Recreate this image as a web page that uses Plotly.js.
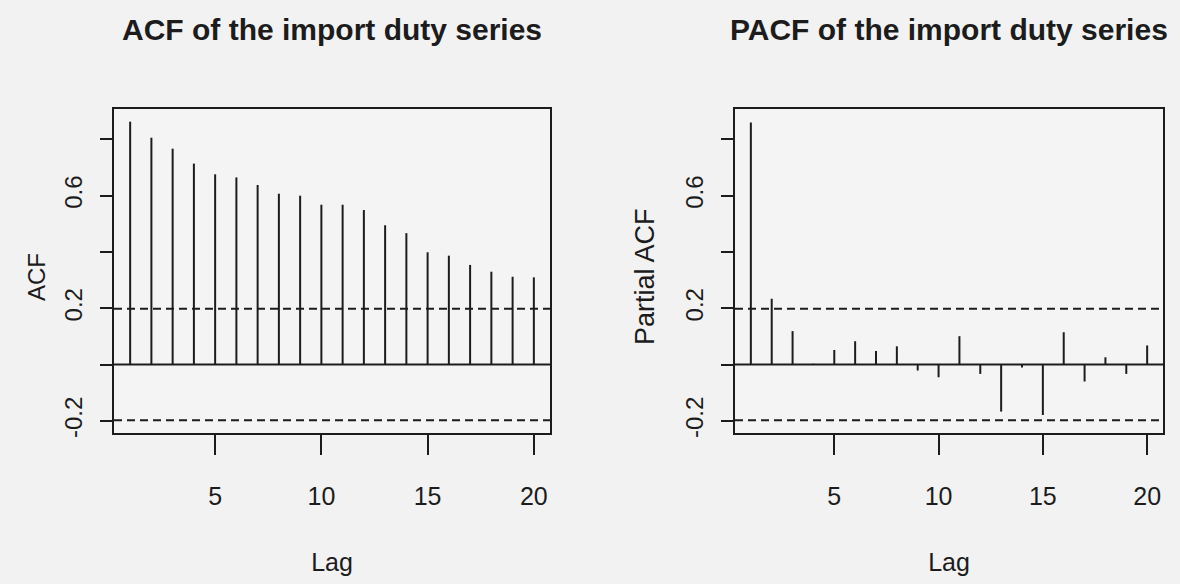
<!DOCTYPE html>
<html>
<head>
<meta charset="utf-8">
<script src="https://cdn.plot.ly/plotly-3.0.1.min.js"></script>
<style>html,body{margin:0;padding:0;background:#f2f2f2;}#chart{width:1180px;height:584px;}</style>
</head>
<body>
<div id="chart"></div>
<script>
// Lags 1..20
const lags = [1,2,3,4,5,6,7,8,9,10,11,12,13,14,15,16,17,18,19,20];
// ACF values of the import duty series
const acfValues = [0.863,0.806,0.767,0.714,0.676,0.665,0.638,0.607,0.600,0.568,0.568,0.549,0.495,0.467,0.399,0.387,0.354,0.330,0.312,0.310];
// PACF values of the import duty series
const pacfValues = [0.860,0.234,0.119,0.003,0.052,0.083,0.048,0.065,-0.021,-0.045,0.101,-0.033,-0.167,-0.010,-0.179,0.115,-0.060,0.026,-0.033,0.068];
// 95% confidence bound
const ciBound = 0.198;
// Tick labels
const yTickVals = [-0.2,0,0.2,0.4,0.6,0.8];
const yTickText = ['-0.2','','0.2','','0.6',''];
const xTickVals = [5,10,15,20];
const titles = ['ACF of the import duty series','PACF of the import duty series'];
const yTitles = ['ACF','Partial ACF'];

function spikes(xs, ys, xa, ya) {
  const x = [], y = [];
  xs.forEach((l, i) => { x.push(l, l, null); y.push(0, ys[i], null); });
  return {x, y, xaxis: xa, yaxis: ya, type: 'scatter', mode: 'lines',
          line: {color: '#1c1c1c', width: 2}, hoverinfo: 'skip', showlegend: false};
}

const ink = '#1c1c1c';
const font = 'Liberation Sans, Arial, sans-serif';
const H = 584, W = 1180;
const yDom = [1 - 433/H, 1 - 109/H];

function xAxis(dom) {
  return {domain: dom, range: [0.24, 20.76], tickvals: xTickVals, ticks: 'outside', ticklen: 20,
    tickwidth: 2, tickcolor: ink, showline: true, mirror: true, linecolor: ink, linewidth: 2,
    showgrid: false, zeroline: false, ticklabelstandoff: 20,
    tickfont: {family: font, size: 25, color: ink},
    title: {text: 'Lag', font: {family: font, size: 25, color: ink}, standoff: 44}};
}
function yAxis(anchor) {
  return {domain: yDom, anchor: anchor, range: [-0.243, 0.908], tickvals: yTickVals, ticktext: yTickText,
    tickangle: -90, ticks: 'outside', ticklen: 12, tickwidth: 2, tickcolor: ink,
    showline: true, mirror: true, linecolor: ink, linewidth: 2, showgrid: false, zeroline: false,
    ticklabelstandoff: 8,
    tickfont: {family: font, size: 24, color: ink}};
}

const xd1 = [114/W, 550/W], xd2 = [735/W, 1163/W];

const data = [
  spikes(lags, acfValues, 'x', 'y'),
  spikes(lags, pacfValues, 'x2', 'y2')
];

const shapes = [];
[['x','y'],['x2','y2']].forEach(([xa, ya]) => {
  shapes.push({type: 'line', xref: xa + ' domain', yref: ya, x0: 0, x1: 1, y0: 0, y1: 0,
    line: {color: ink, width: 2}});
  [ciBound, -ciBound].forEach(c => shapes.push({type: 'line', xref: xa + ' domain', yref: ya,
    x0: 0, x1: 1, y0: c, y1: c, line: {color: ink, width: 2, dash: '8px,5px'}}));
});

const annotations = [
  {text: titles[0], x: (xd1[0]+xd1[1])/2, y: 1 - 30/H, xref: 'paper', yref: 'paper', showarrow: false,
   xanchor: 'center', yanchor: 'middle', font: {family: font, size: 30, color: ink, weight: 'bold'}},
  {text: titles[1], x: (xd2[0]+xd2[1])/2, y: 1 - 30/H, xref: 'paper', yref: 'paper', showarrow: false,
   xanchor: 'center', yanchor: 'middle', font: {family: font, size: 30, color: ink, weight: 'bold'}},
  {text: yTitles[0], x: 36/W, y: 1 - 277/H, xref: 'paper', yref: 'paper', showarrow: false,
   textangle: -90, xanchor: 'center', yanchor: 'middle', font: {family: font, size: 24, color: ink}},
  {text: yTitles[1], x: 645/W, y: 1 - 277/H, xref: 'paper', yref: 'paper', showarrow: false,
   textangle: -90, xanchor: 'center', yanchor: 'middle', font: {family: font, size: 27, color: ink}}
];

const layout = {
  width: W, height: H, margin: {l: 0, r: 0, t: 0, b: 0},
  paper_bgcolor: '#f2f2f2', plot_bgcolor: '#f4f4f4',
  showlegend: false,
  xaxis: Object.assign(xAxis(xd1), {anchor: 'y'}), yaxis: yAxis('x'),
  xaxis2: Object.assign(xAxis(xd2), {anchor: 'y2'}), yaxis2: yAxis('x2'),
  shapes: shapes, annotations: annotations
};

Plotly.newPlot('chart', data, layout, {displayModeBar: false, staticPlot: true});
</script>
</body>
</html>
